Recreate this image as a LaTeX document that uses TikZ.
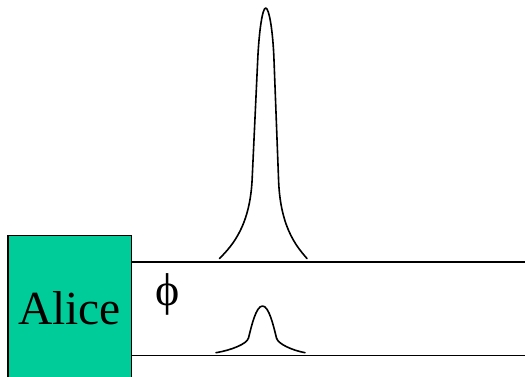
\documentclass[tikz,border=0pt]{standalone}
\usepackage{fontspec}
\setmainfont{Liberation Serif}
\definecolor{aliceteal}{HTML}{00CC99}
\begin{document}
\begin{tikzpicture}[x=1pt,y=-1pt,
  wire/.style={line width=1.5pt,black},
  pulse/.style={line width=1.6pt,black,line join=round,line cap=round},
  boxst/.style={draw=black,line width=1.3pt,fill=aliceteal}]
\useasboundingbox (0,0) rectangle (525,376);
\begin{scope}
\clip (0,0) rectangle (525,376);
\filldraw[boxst] (8,235.7) rectangle (131.3,390);
\end{scope}
\node[anchor=base,inner sep=0,font=\fontsize{47.5}{50}\selectfont] (alice) at (69.5,324) {Alice};
\node[anchor=base,inner sep=0,font=\fontsize{46}{48}\selectfont] (phi) at (167.5,305.5) {ϕ};
\coordinate (t1) at (131.3,262);
\coordinate (t2) at (525,262);
\coordinate (b1) at (131.3,355.3);
\coordinate (b2) at (525,355.3);
\draw[wire] (t1) -- (t2);
\draw[wire] (b1) -- (b2);
% big pulse
\draw[pulse] (219.5,258.5) .. controls (233,245) and (250.2,225) .. (252.2,178)
  -- (257.7,60) .. controls (259.1,30) and (262.5,8) .. (265.7,8)
  .. controls (269,8) and (272.9,30) .. (274,60)
  -- (278.5,178) .. controls (279.8,225) and (295,245) .. (307,258.5);
% small pulse
\draw[pulse] (216,352.7) .. controls (231,350.2) and (247,344) .. (248.5,338)
  .. controls (251.5,326) and (256,306) .. (262.5,306)
  .. controls (269,306) and (273.5,326) .. (276.5,338)
  .. controls (278,344) and (292,350.2) .. (305,352.7);
\end{tikzpicture}
\end{document}
